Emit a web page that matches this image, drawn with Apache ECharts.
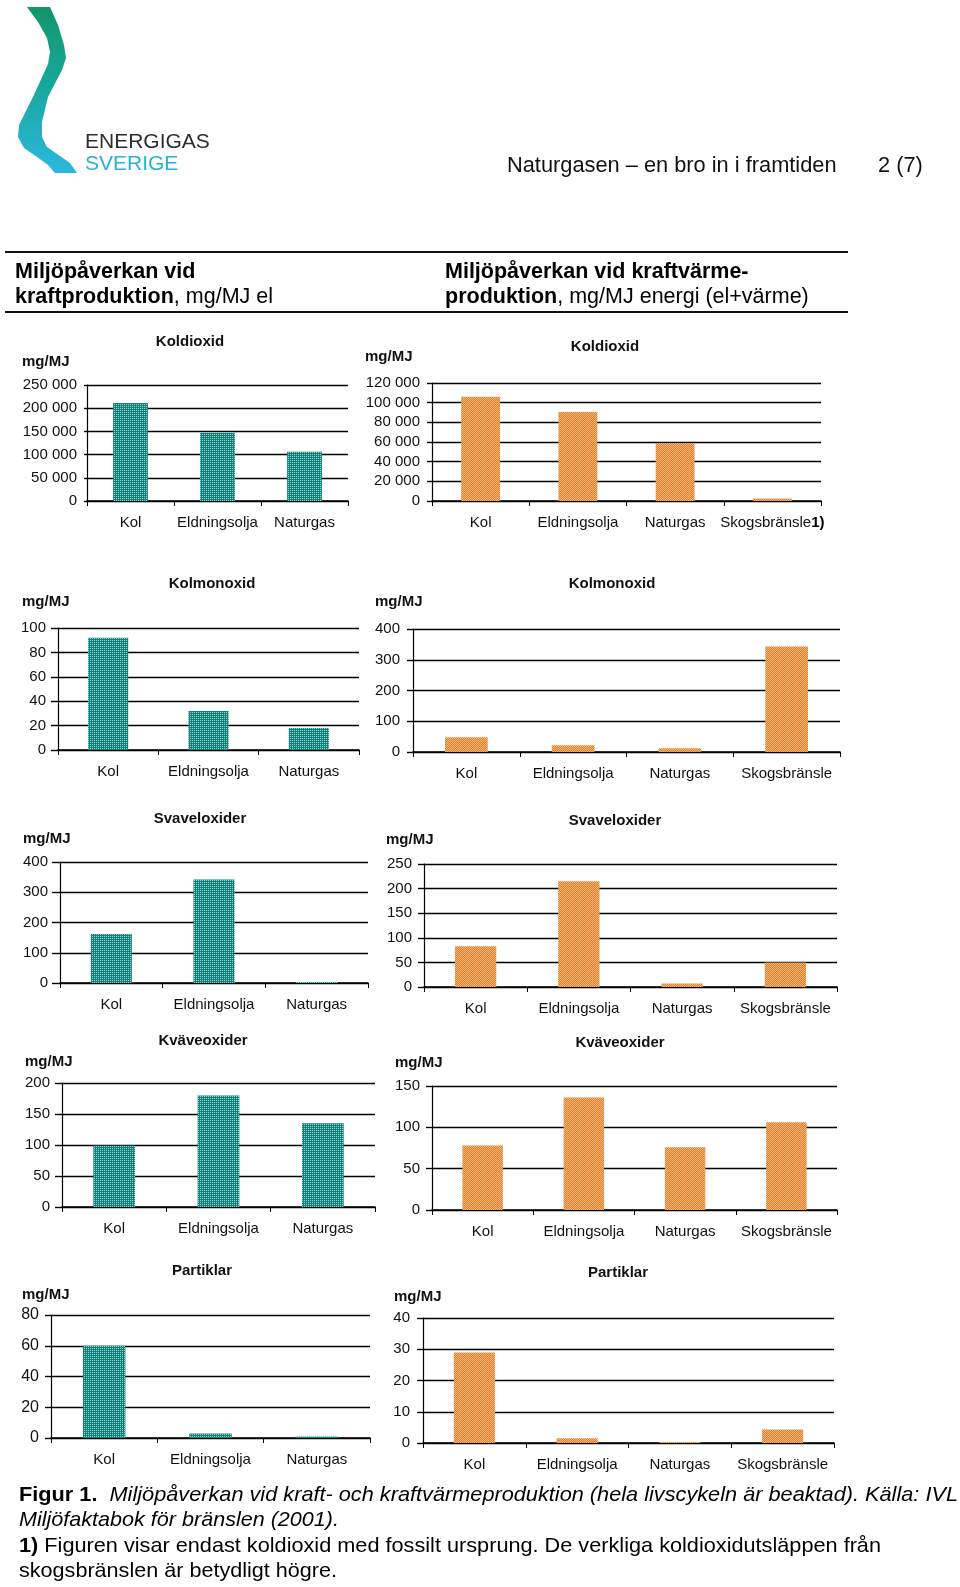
<!DOCTYPE html>
<html><head><meta charset="utf-8">
<script src="https://cdn.jsdelivr.net/npm/echarts@6/dist/echarts.min.js"></script>
<style>html,body{margin:0;padding:0;background:#fff;} #c{width:960px;height:1587px;}</style>
</head><body><div id="c"></div>
<script>
// ---------- DATA ----------
const categoriesPower = ['Kol', 'Eldningsolja', 'Naturgas'];
const categoriesChp = ['Kol', 'Eldningsolja', 'Naturgas', 'Skogsbränsle'];

// Kraftproduktion, mg/MJ el
const co2Power = [211000, 147000, 106000];
const coPower  = [92, 32, 18];
const soxPower = [162, 342, 3];
const noxPower = [99, 180, 135];
const pmPower  = [60, 3, 1];

// Kraftvärmeproduktion, mg/MJ energi
const co2Chp = [106000, 90500, 59000, 2500];
const coChp  = [48, 22, 12, 343];
const soxChp = [83, 215, 7, 50];
const noxChp = [78, 136, 76, 106];
const pmChp  = [29, 1.5, 0.3, 4.3];

const pollutantTitles = ['Koldioxid', 'Kolmonoxid', 'Svaveloxider', 'Kväveoxider', 'Partiklar'];
const yMaxPower  = [250000, 100, 400, 200, 80];
const yStepPower = [50000, 20, 100, 50, 20];
const yMaxChp    = [120000, 400, 250, 150, 40];
const yStepChp   = [20000, 100, 50, 50, 10];
const unitLabel = 'mg/MJ';
const footnoteMark = '1)';

// ---------- STYLE / LAYOUT ----------
const FONT = '"Liberation Sans", Arial, Helvetica, sans-serif';

function pattern(bg, fg, dots) {
  const c = document.createElement('canvas');
  c.width = 2; c.height = 2;
  const x = c.getContext('2d');
  x.fillStyle = bg; x.fillRect(0, 0, 2, 2);
  x.fillStyle = fg;
  dots.forEach(d => x.fillRect(d[0], d[1], 1, 1));
  return { image: c, repeat: 'repeat' };
}
const tealFill = pattern('#13807c', '#8fd3cc', [[0, 0]]);
const orangeFill = pattern('#e07b28', '#f5b879', [[0, 0], [1, 1]]);

const powerData = [co2Power, coPower, soxPower, noxPower, pmPower];
const chpData = [co2Chp, coChp, soxChp, noxChp, pmChp];

const layoutPower = [
  { grid: [87, 385, 261, 116], title: [190, 342], unit: [22, 362], yFs: 15, yMargin: 10, yTick: 3 },
  { grid: [58, 628, 301, 122], title: [212, 584], unit: [22, 602], yFs: 15, yMargin: 12, yTick: 7 },
  { grid: [60, 862, 308, 121], title: [200, 819], unit: [23, 839], yFs: 15, yMargin: 12, yTick: 8 },
  { grid: [62, 1083, 313, 124], title: [203, 1041], unit: [25, 1062], yFs: 15, yMargin: 12, yTick: 7 },
  { grid: [51, 1315, 319, 123], title: [202, 1271], unit: [22, 1295], yFs: 16, yMargin: 12, yTick: 6 }
];
const layoutChp = [
  { grid: [432, 383, 389, 118], title: [605, 347], unit: [365, 357], yFs: 15, yMargin: 12, yTick: 5 },
  { grid: [413, 629, 427, 123], title: [612, 584], unit: [375, 602], yFs: 15, yMargin: 13, yTick: 6 },
  { grid: [424, 864, 413, 123], title: [615, 821], unit: [386, 840], yFs: 15, yMargin: 12, yTick: 6 },
  { grid: [432, 1086, 405, 124], title: [620, 1043], unit: [395, 1063], yFs: 15, yMargin: 12, yTick: 6 },
  { grid: [423, 1318, 411, 125], title: [618, 1273], unit: [394, 1297], yFs: 15, yMargin: 13, yTick: 6 }
];

const fmtThousands = v => String(v).replace(/\B(?=(\d{3})+(?!\d))/g, ' ');

const grids = [], xAxes = [], yAxes = [], series = [], graphics = [];

function addPanel(idx, cats, data, max, step, lay, fill, title, markLast) {
  const g = lay.grid;
  grids.push({ left: g[0], top: g[1], width: g[2], height: g[3], containLabel: false });
  xAxes.push({
    type: 'category', gridIndex: idx, data: cats, boundaryGap: true,
    axisLine: { show: true, lineStyle: { color: '#000', width: 1.5 } },
    axisTick: { show: true, length: 5, lineStyle: { color: '#000', width: 1 } },
    axisLabel: {
      interval: 0, margin: 14, fontSize: 15, color: '#111', fontFamily: FONT,
      formatter: (v, i) => (markLast && i === cats.length - 1) ? '{n|' + v + '}{b|' + footnoteMark + '}' : '{n|' + v + '}',
      rich: {
        n: { fontSize: 15, color: '#111', fontFamily: FONT },
        b: { fontSize: 15, color: '#000', fontWeight: 'bold', fontFamily: FONT }
      }
    },
    splitLine: { show: false }
  });
  yAxes.push({
    type: 'value', gridIndex: idx, min: 0, max: max, interval: step,
    axisLine: { show: true, lineStyle: { color: '#000', width: 1.2 } },
    axisTick: { show: true, length: lay.yTick, lineStyle: { color: '#000', width: 1.4 } },
    axisLabel: { fontSize: lay.yFs, color: '#111', fontFamily: FONT, margin: lay.yMargin, formatter: fmtThousands },
    splitLine: { show: true, lineStyle: { color: '#000', width: 1.4 } }
  });
  series.push({
    type: 'bar', xAxisIndex: idx, yAxisIndex: idx, data: data, barWidth: '40%',
    itemStyle: { color: fill }, silent: true, animation: false
  });
  graphics.push({
    type: 'text', x: lay.title[0], y: lay.title[1],
    style: { text: title, font: 'bold 15px ' + FONT, fill: '#111', align: 'center', verticalAlign: 'middle' }
  });
  graphics.push({
    type: 'text', x: lay.unit[0], y: lay.unit[1],
    style: { text: unitLabel, font: 'bold 15px ' + FONT, fill: '#111', align: 'left', verticalAlign: 'middle' }
  });
}

let k = 0;
for (let i = 0; i < 5; i++) {
  addPanel(k++, categoriesPower, powerData[i], yMaxPower[i], yStepPower[i], layoutPower[i], tealFill, pollutantTitles[i], false);
  addPanel(k++, categoriesChp, chpData[i], yMaxChp[i], yStepChp[i], layoutChp[i], orangeFill, pollutantTitles[i], i === 0);
}

// ---------- HEADER ----------
graphics.push({
  type: 'polygon',
  shape: { points: [
    [27,7],[50,7],[58,25],[64,45],[66,58],[62,70],[48,97],[42,122],[42,137],[47,147],[60,156],[70,163],[77,173],
    [55,173],[48,165],[37,157],[24,148],[18,137],[19,125],[33,97],[48,64],[50,52],[47,38],[38,22]
  ] },
  style: { fill: { type: 'linear', x: 0, y: 0, x2: 0, y2: 1, colorStops: [
    { offset: 0, color: '#12966a' }, { offset: 0.45, color: '#17a79a' }, { offset: 1, color: '#2cb8de' } ] } }
});
graphics.push({ type: 'text', x: 85, y: 142, style: { text: 'ENERGIGAS', font: '21px ' + FONT, fill: '#2e2e2e', align: 'left', verticalAlign: 'middle' } });
graphics.push({ type: 'text', x: 85, y: 164, style: { text: 'SVERIGE', font: '21px ' + FONT, fill: '#2ab2d6', align: 'left', verticalAlign: 'middle' } });
graphics.push({ type: 'text', x: 507, y: 166, style: { text: 'Naturgasen – en bro in i framtiden', font: '21.8px ' + FONT, fill: '#111', align: 'left', verticalAlign: 'middle' } });
graphics.push({ type: 'text', x: 878, y: 166, style: { text: '2 (7)', font: '21.8px ' + FONT, fill: '#111', align: 'left', verticalAlign: 'middle' } });

graphics.push({ type: 'line', shape: { x1: 5, y1: 252, x2: 848, y2: 252 }, style: { stroke: '#111', lineWidth: 2 } });
graphics.push({ type: 'line', shape: { x1: 5, y1: 312, x2: 848, y2: 312 }, style: { stroke: '#111', lineWidth: 2 } });

const headRich = {
  b: { font: 'bold 21.5px ' + FONT, fill: '#000' },
  r: { font: '21.5px ' + FONT, fill: '#000' }
};
graphics.push({ type: 'text', x: 15, y: 272, style: { text: '{b|Miljöpåverkan vid}', rich: headRich, align: 'left', verticalAlign: 'middle' } });
graphics.push({ type: 'text', x: 15, y: 297, style: { text: '{b|kraftproduktion}{r|, mg/MJ el}', rich: headRich, align: 'left', verticalAlign: 'middle' } });
graphics.push({ type: 'text', x: 445, y: 272, style: { text: '{b|Miljöpåverkan vid kraftvärme-}', rich: headRich, align: 'left', verticalAlign: 'middle' } });
graphics.push({ type: 'text', x: 445, y: 297, style: { text: '{b|produktion}{r|, mg/MJ energi (el+värme)}', rich: headRich, align: 'left', verticalAlign: 'middle' } });

// ---------- CAPTION ----------
const capB = 'bold 21px ' + FONT, capI = 'italic 21px ' + FONT, capR = '21px ' + FONT;
const mctx = document.createElement('canvas').getContext('2d');
function measure(parts) { let w = 0; parts.forEach(p => { mctx.font = p[0]; w += mctx.measureText(p[1]).width; }); return w; }
const capLines = [
  { y: 1495, target: 939, parts: [[capB, 'Figur 1.'], [capR, '  '], [capI, 'Miljöpåverkan vid kraft- och kraftvärmeproduktion (hela livscykeln är beaktad). Källa: IVL']], keys: ['b', 'r', 'i'] },
  { y: 1520, target: 320, parts: [[capI, 'Miljöfaktabok för bränslen (2001).']], keys: ['i'] },
  { y: 1546, target: 862, parts: [[capB, '1)'], [capR, ' Figuren visar endast koldioxid med fossilt ursprung. De verkliga koldioxidutsläppen från']], keys: ['b', 'r'] },
  { y: 1571, target: 318, parts: [[capR, 'skogsbränslen är betydligt högre.']], keys: ['r'] }
];
const capRich = { b: { font: capB, fill: '#000' }, i: { font: capI, fill: '#000' }, r: { font: capR, fill: '#000' } };
capLines.forEach(l => {
  const sx = l.target / measure(l.parts);
  graphics.push({
    type: 'text', x: 19, y: l.y, scaleX: sx,
    style: { text: l.parts.map((p, j) => '{' + l.keys[j] + '|' + p[1] + '}').join(''), rich: capRich, align: 'left', verticalAlign: 'middle' }
  });
});

const chart = echarts.init(document.getElementById('c'), null, { renderer: 'canvas', width: 960, height: 1587 });
chart.setOption({
  backgroundColor: '#fff',
  animation: false,
  textStyle: { fontFamily: FONT },
  grid: grids, xAxis: xAxes, yAxis: yAxes, series: series,
  graphic: graphics
});
</script>
</body></html>
